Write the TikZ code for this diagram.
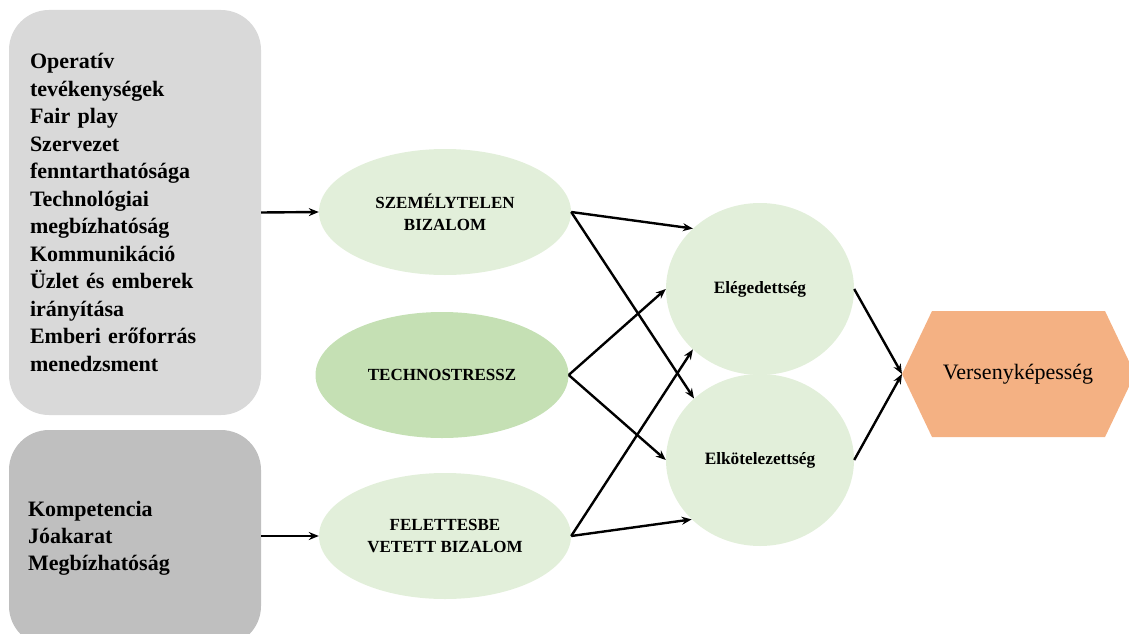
\documentclass[tikz,border=0pt]{standalone}
\usepackage{fontspec}
\setmainfont{Liberation Serif}
\usetikzlibrary{arrows.meta,shapes.geometric}
\definecolor{boxA}{HTML}{D9D9D9}
\definecolor{boxB}{HTML}{BFBFBF}
\definecolor{lgreen}{HTML}{E2EFDA}
\definecolor{mgreen}{HTML}{C5E0B4}
\definecolor{orng}{HTML}{F4B183}
\begin{document}
\begin{tikzpicture}[x=1pt,y=-1pt,
  conn/.style={line width=2.4pt,-{Stealth[length=10pt,width=8pt]}},
  grbox/.style={rounded corners=40pt, minimum width=252pt, align=left, text width=210pt, inner sep=0pt, font=\fontsize{22}{27.5}\selectfont\bfseries},
  oval/.style={ellipse, minimum width=252pt, minimum height=126pt, inner sep=0pt, align=center, font=\fontsize{17}{22}\selectfont\bfseries},
  circ/.style={ellipse, fill=lgreen, minimum width=188pt, minimum height=172pt, inner sep=0pt, font=\fontsize{17.3}{20}\selectfont\bfseries}
]
\useasboundingbox (0,0) rectangle (1129,634);
\clip (0,0) rectangle (1129,634);

\node[grbox, fill=boxA, minimum height=405pt] (b1) at (135,212.5) {Operatív\\tevékenységek\\Fair play\\Szervezet\\fenntarthatósága\\Technológiai\\megbízhatóság\\Kommunikáció\\Üzlet és emberek\\irányítása\\Emberi erőforrás\\menedzsment};
\node[grbox, fill=boxB, minimum height=216pt, text width=214pt, font=\fontsize{22}{27}\selectfont\bfseries] (b2) at (135,538) {Kompetencia\\Jóakarat\\Megbízhatóság};

\node[oval, fill=lgreen] (sz) at (445,212) {SZEMÉLYTELEN\\BIZALOM};
\node[oval, fill=mgreen, minimum width=253pt] (ts) at (442,375) {TECHNOSTRESSZ};
\node[oval, fill=lgreen] (fb) at (445,536) {FELETTESBE\\VETETT BIZALOM};

\node[circ] (el) at (760,289) {Elégedettség};
\node[circ] (ek) at (760,460) {Elkötelezettség};

\fill[orng] (902,374) -- (932,311) -- (1105,311) -- (1135,374) -- (1105,437) -- (932,437) -- cycle;
\node[font=\fontsize{22}{26}\selectfont] (vk) at (1018,374) {Versenyképesség};
\coordinate (vkw) at (902,374);

\draw[conn] (b1.east) -- (sz.west);
\draw[conn] (b2.east |- fb.west) -- (fb.west);
\draw[conn] (sz.east) -- (el.138);
\draw[conn] (sz.east) -- (ek.137);
\draw[conn] (ts.east) -- (el.west);
\draw[conn] (ts.east) -- (ek.west);
\draw[conn] (fb.east) -- (el.222);
\draw[conn] (fb.east) -- (ek.221);
\draw[conn] (el.east) -- (vkw);
\draw[conn] (ek.east) -- (vkw);
\end{tikzpicture}
\end{document}
